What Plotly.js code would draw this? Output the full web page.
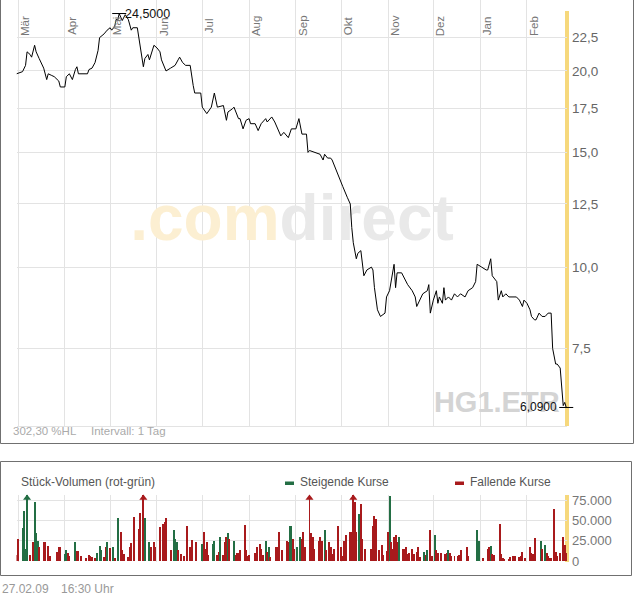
<!DOCTYPE html>
<html><head><meta charset="utf-8">
<script src="https://cdn.plot.ly/plotly-3.0.1.min.js"></script>
<style>html,body{margin:0;padding:0;background:#fff;} #chart{width:634px;height:597px;}</style>
</head><body><div id="chart"></div>
<script>
// ---------- data ----------
const priceDates = [
'2008-02-29','2008-03-04','2008-03-06','2008-03-07','2008-03-09','2008-03-10','2008-03-12','2008-03-13','2008-03-15','2008-03-17',
'2008-03-18','2008-03-20','2008-03-21','2008-03-23','2008-03-25','2008-03-28','2008-03-29','2008-04-01','2008-04-02','2008-04-04',
'2008-04-06','2008-04-08','2008-04-09','2008-04-10','2008-04-12','2008-04-16','2008-04-17','2008-04-19','2008-04-21','2008-04-23',
'2008-04-24','2008-04-27','2008-04-29','2008-05-01','2008-05-02','2008-05-04','2008-05-05','2008-05-06','2008-05-07','2008-05-09',
'2008-05-11','2008-05-13','2008-05-15','2008-05-16','2008-05-19','2008-05-21','2008-05-22','2008-05-23','2008-05-24','2008-05-26',
'2008-05-27','2008-05-28','2008-05-30','2008-06-01','2008-06-03','2008-06-04','2008-06-06','2008-06-07','2008-06-10','2008-06-13',
'2008-06-15','2008-06-16','2008-06-18','2008-06-20','2008-06-23','2008-06-24','2008-06-25','2008-06-26','2008-06-30','2008-07-01',
'2008-07-04','2008-07-07','2008-07-09','2008-07-11','2008-07-15','2008-07-17','2008-07-18','2008-07-21','2008-07-22','2008-07-25',
'2008-07-26','2008-07-28','2008-07-30','2008-08-01','2008-08-02','2008-08-05','2008-08-07','2008-08-09','2008-08-12','2008-08-13',
'2008-08-16','2008-08-18','2008-08-20','2008-08-22','2008-08-24','2008-08-27','2008-08-29','2008-09-01','2008-09-03','2008-09-05',
'2008-09-08','2008-09-09','2008-09-10','2008-09-14','2008-09-17','2008-09-19','2008-09-20','2008-09-22','2008-09-24','2008-09-25',
'2008-09-27','2008-09-29','2008-10-01','2008-10-02','2008-10-05','2008-10-07','2008-10-08','2008-10-09','2008-10-11','2008-10-12',
'2008-10-14','2008-10-15','2008-10-16','2008-10-18','2008-10-21','2008-10-22','2008-10-23','2008-10-25','2008-10-27','2008-10-30',
'2008-10-31','2008-11-02','2008-11-03','2008-11-05','2008-11-06','2008-11-07','2008-11-10','2008-11-12','2008-11-14','2008-11-17',
'2008-11-19','2008-11-20','2008-11-22','2008-11-24','2008-11-27','2008-11-28','2008-11-29','2008-11-30','2008-12-01','2008-12-03',
'2008-12-04','2008-12-05','2008-12-07','2008-12-08','2008-12-09','2008-12-11','2008-12-13','2008-12-15','2008-12-17','2008-12-19',
'2008-12-22','2008-12-24','2008-12-27','2008-12-29','2008-12-30','2009-01-02','2009-01-05','2009-01-06','2009-01-08','2009-01-09',
'2009-01-12','2009-01-13','2009-01-15','2009-01-16','2009-01-18','2009-01-20','2009-01-23','2009-01-25','2009-01-27','2009-01-29',
'2009-01-30','2009-02-01','2009-02-03','2009-02-04','2009-02-06','2009-02-07','2009-02-09','2009-02-11','2009-02-13','2009-02-15',
'2009-02-17','2009-02-18','2009-02-20','2009-02-21','2009-02-23','2009-02-24','2009-02-25','2009-02-26','2009-02-27'
];
const priceValues = [
19.8,19.95,20.4,21.4,21.2,21.0,21.9,21.4,20.9,20.5,
20.2,19.4,19.8,19.7,19.6,19.3,18.9,18.9,19.6,19.8,
19.4,20.1,20.3,19.8,19.8,19.8,20.1,20.2,20.6,21.5,
22.5,22.8,23.1,23.3,23.1,23.4,24.0,23.9,24.5,23.9,
24.4,24.0,23.1,23.3,23.3,21.8,21.2,20.3,20.9,21.2,
20.8,21.2,21.9,21.7,21.4,20.8,20.3,20.0,20.2,20.4,
20.8,21.0,20.6,20.4,20.4,19.6,19.0,18.5,18.5,17.6,
17.2,17.6,18.5,17.6,17.7,16.8,17.3,17.5,17.6,16.9,
16.9,16.3,16.8,16.9,16.6,16.6,16.2,16.6,16.9,16.7,
17.0,16.7,16.3,15.9,16.1,15.8,16.3,16.3,16.9,16.0,
16.0,15.0,15.1,15.0,14.9,14.6,14.9,14.7,14.7,14.6,
14.2,13.8,13.4,13.3,12.8,12.5,11.5,10.9,10.3,10.5,
10.6,10.0,9.7,9.9,10.0,9.9,9.3,8.6,8.4,8.5,
9.0,9.2,9.5,10.1,9.3,9.8,9.8,9.6,9.4,9.2,
9.0,8.7,8.9,9.1,9.2,9.4,8.5,8.7,8.9,9.2,
8.8,9.0,8.8,9.3,8.9,9.0,8.9,9.1,9.0,9.1,
9.0,9.2,9.3,9.5,10.1,10.0,9.9,9.9,10.3,9.7,
9.5,8.9,9.2,9.0,9.1,9.0,9.0,9.0,8.9,8.7,
8.9,8.8,8.6,8.4,8.3,8.3,8.5,8.4,8.4,8.5,
8.5,7.5,7.1,7.1,7.0,6.6,6.13,6.2,6.09
];

const volDates = [
'2008-02-29','2008-03-01','2008-03-04','2008-03-05','2008-03-06','2008-03-07','2008-03-09','2008-03-11','2008-03-12','2008-03-13',
'2008-03-14','2008-03-15','2008-03-18','2008-03-19','2008-03-21','2008-03-22','2008-03-27','2008-03-28','2008-03-29','2008-04-01',
'2008-04-02','2008-04-03','2008-04-04','2008-04-08','2008-04-09','2008-04-10','2008-04-12','2008-04-15','2008-04-17','2008-04-18',
'2008-04-19','2008-04-21','2008-04-22','2008-04-24','2008-04-25','2008-04-27','2008-04-28','2008-04-29','2008-05-01','2008-05-03',
'2008-05-04','2008-05-06','2008-05-08','2008-05-09','2008-05-10','2008-05-13','2008-05-14','2008-05-15','2008-05-17','2008-05-20',
'2008-05-21','2008-05-23','2008-05-24','2008-05-27','2008-05-28','2008-05-30','2008-05-31','2008-06-03','2008-06-05','2008-06-06',
'2008-06-07','2008-06-10','2008-06-12','2008-06-13','2008-06-14','2008-06-15','2008-06-17','2008-06-19','2008-06-21','2008-06-23',
'2008-06-24','2008-06-27',
'2008-07-01','2008-07-02','2008-07-03','2008-07-04','2008-07-05','2008-07-08','2008-07-09','2008-07-11','2008-07-12','2008-07-13',
'2008-07-15','2008-07-16','2008-07-17','2008-07-18','2008-07-19','2008-07-22','2008-07-23','2008-07-24','2008-07-25','2008-07-26',
'2008-07-29','2008-07-30','2008-07-31','2008-08-01','2008-08-05','2008-08-06','2008-08-08','2008-08-09','2008-08-10','2008-08-12',
'2008-08-13','2008-08-14','2008-08-15','2008-08-19','2008-08-20','2008-08-21','2008-08-23','2008-08-26','2008-08-27','2008-08-28',
'2008-08-29','2008-08-30','2008-08-31','2008-09-02','2008-09-04','2008-09-05','2008-09-06','2008-09-07','2008-09-10','2008-09-11',
'2008-09-12','2008-09-13','2008-09-16','2008-09-17','2008-09-18','2008-09-20','2008-09-21','2008-09-23','2008-09-24','2008-09-25',
'2008-09-26','2008-09-29','2008-10-01','2008-10-02','2008-10-03','2008-10-04','2008-10-07','2008-10-08','2008-10-09','2008-10-10',
'2008-10-11','2008-10-13','2008-10-14','2008-10-15','2008-10-17','2008-10-21','2008-10-22','2008-10-23','2008-10-24','2008-10-26',
'2008-10-28','2008-10-29','2008-10-31','2008-11-01','2008-11-02','2008-11-03','2008-11-04','2008-11-05','2008-11-06','2008-11-07',
'2008-11-08','2008-11-11','2008-11-12','2008-11-13','2008-11-14','2008-11-15','2008-11-17','2008-11-18','2008-11-20','2008-11-21',
'2008-11-22','2008-11-25','2008-11-26','2008-11-27','2008-11-29','2008-11-30','2008-12-02','2008-12-03','2008-12-04','2008-12-06',
'2008-12-09','2008-12-10','2008-12-11','2008-12-12','2008-12-13','2008-12-15','2008-12-17','2008-12-18','2008-12-19','2008-12-23',
'2008-12-24','2008-12-30','2008-12-31','2009-01-03','2009-01-06','2009-01-07','2009-01-08','2009-01-09','2009-01-10','2009-01-14',
'2009-01-15','2009-01-16','2009-01-17','2009-01-20','2009-01-21','2009-01-23','2009-01-24','2009-01-27','2009-01-28','2009-01-29',
'2009-01-31','2009-02-03','2009-02-04','2009-02-05','2009-02-06','2009-02-10','2009-02-11','2009-02-13','2009-02-14','2009-02-15',
'2009-02-16','2009-02-17','2009-02-19','2009-02-20','2009-02-21','2009-02-23','2009-02-25','2009-02-26','2009-02-27'
];
const volValues = [
7000,27000,40000,62000,15000,95000,7000,23000,73000,34000,
25000,17000,23000,23000,18000,6000,11000,17000,17000,8000,
13000,10000,6000,23000,12000,12000,6000,4000,7000,6000,
5000,4000,10000,18000,13000,5000,17000,23000,16000,17000,
4000,53000,36000,13000,8000,5000,17000,22000,54000,39500,
59000,95000,53000,23000,17000,23000,17000,42000,46000,48000,
53000,13000,38000,27000,23000,13000,8000,6000,43000,17000,
26000,23000,
21000,36000,15000,23000,7000,21000,24000,7000,11000,30000,
7000,23000,30000,35000,27000,24000,7000,10000,10000,13000,
44000,13000,6000,7000,10000,17000,21000,15000,7000,24000,
11000,17000,5000,17000,17000,36000,14000,25000,23000,43000,
43000,27000,15000,17000,30000,27000,36000,17000,95000,35000,
29000,15000,24000,30000,24000,38000,13000,23000,17000,8000,
15000,43000,17000,6000,24000,32000,36000,36000,95000,72000,
36000,58000,70500,27000,15000,15000,43000,55000,52000,13000,
20000,7000,12000,36000,80000,23000,15000,30000,32000,23000,
30000,15000,15000,17000,8000,10000,15000,8000,11000,17000,
5000,11000,7000,14000,38000,6000,32000,13000,10000,10000,
8000,10000,13000,10000,6000,6000,6000,7000,13000,17000,
6000,38000,25000,4000,15000,17000,18000,9000,7000,46000,
8000,4000,2000,3000,5000,6000,6000,5000,6000,11000,
4000,17000,10000,8000,28000,25000,15000,20000,10000,6000,
4000,4000,64000,11000,6000,10000,30000,20000,10000
];
// 1 = Steigende Kurse, 0 = Fallende Kurse
const volRising = [
0,0,1,1,1,1,0,0,1,1,
1,0,0,0,0,0,0,0,0,1,
1,0,0,1,0,0,0,0,0,0,
0,0,1,1,1,0,0,1,0,1,
0,1,0,0,0,0,0,0,0,0,
0,0,1,1,0,0,0,0,0,0,
0,0,1,1,1,0,0,0,0,0,
0,0,
1,0,0,0,0,1,1,0,0,1,
0,0,0,1,0,1,0,0,0,0,
0,0,0,0,0,0,0,0,0,1,
0,1,0,0,0,0,0,0,0,1,
1,0,0,1,1,0,0,0,0,0,
0,0,0,0,0,1,0,0,0,0,
0,0,0,0,0,0,0,0,0,0,
0,1,0,0,0,0,0,0,0,0,
0,0,0,0,1,0,0,0,0,0,
1,0,0,0,0,0,0,0,0,0,
0,1,0,1,0,0,1,0,0,0,
0,0,1,0,0,0,0,0,0,0,
0,1,1,0,0,0,1,0,0,0,
0,0,0,0,0,0,0,0,0,0,
0,0,0,0,0,1,0,1,0,0,
0,0,0,0,0,0,0,0,0
];

const monthTicks = ['2008-03-01','2008-04-01','2008-05-01','2008-06-01','2008-07-01','2008-08-01',
  '2008-09-01','2008-10-01','2008-11-01','2008-12-01','2009-01-01','2009-02-01'];
const monthLabels = ['Mär','Apr','Mai','Jun','Jul','Aug','Sep','Okt','Nov','Dez','Jan','Feb'];
const priceTicks = [7.5,10,12.5,15,17.5,20,22.5];
const volTicks = [0,25000,50000,75000];
const symbolName = 'HG1.ETR';
const infoRange = '302,30 %HL';
const infoInterval = 'Intervall: 1 Tag';
const volTitle = 'Stück-Volumen (rot-grün)';
const legendUp = 'Steigende Kurse';
const legendDown = 'Fallende Kurse';
const footerDate = '27.02.09';
const footerTime = '16:30 Uhr';

// ---------- layout helpers ----------
const W = 634, H = 597;
const px = x => x / W;
const py = y => 1 - y / H;
const GREEN = '#236e44', RED = '#a81a1c', GRID = '#e3e3e3', YELLOW = '#f6d87c';
const FONT = 'Liberation Sans, Arial, sans-serif';
const xRange = ['2008-02-29', '2009-02-27 12:00'];

let maxI = 0, minI = 0;
priceValues.forEach((v, i) => { if (v > priceValues[maxI]) maxI = i; if (v < priceValues[minI]) minI = i; });
const fmt4 = v => v.toFixed(4).replace('.', ',');

const traces = [
  { type: 'scatter', mode: 'text', x: ['2008-08-29 10:00'], y: [11.65],
    text: ['<span style="color:#fcefd2">.com</span><span style="color:#e9e9e9">direct</span>'],
    textfont: { family: FONT, size: 64, color: '#e9e9e9', weight: 'bold' }, hoverinfo: 'skip', cliponaxis: false, xaxis: 'x', yaxis: 'y' },
  { type: 'scatter', mode: 'text', x: ['2009-01-12'], y: [6.14], text: [symbolName],
    textfont: { family: FONT, size: 29, color: '#d4d4d4', weight: 'bold' }, hoverinfo: 'skip', cliponaxis: false, xaxis: 'x', yaxis: 'y' },
  { type: 'scatter', mode: 'lines', x: priceDates, y: priceValues, line: { color: '#000', width: 1 }, xaxis: 'x', yaxis: 'y' },
  { type: 'scatter', mode: 'markers', x: [priceDates[maxI], priceDates[minI]], y: [priceValues[maxI], priceValues[minI]],
    marker: { symbol: 'line-ew', size: 10, line: { color: '#000', width: 1 } }, cliponaxis: false, xaxis: 'x', yaxis: 'y' },
  { type: 'bar', x: volDates, y: volValues, width: 86400000 * 1.3,
    marker: { color: volRising.map(r => r ? GREEN : RED), line: { width: 0 } }, xaxis: 'x2', yaxis: 'y2' },
];
const arrowIdx = volValues.map((v, i) => v > 90000 ? i : -1).filter(i => i >= 0);
traces.push({ type: 'scatter', mode: 'markers', x: arrowIdx.map(i => volDates[i]), y: arrowIdx.map(() => 77500),
  marker: { symbol: 'triangle-up', size: 7, color: arrowIdx.map(i => volRising[i] ? GREEN : RED) },
  cliponaxis: false, xaxis: 'x2', yaxis: 'y2' });

const annotations = [];
monthTicks.forEach((m, i) => annotations.push({ x: m, xref: 'x', y: py(26), yref: 'paper', text: monthLabels[i],
  textangle: -90, showarrow: false, xanchor: 'center', yanchor: 'middle', xshift: 7, font: { size: 11.5, color: '#777' } }));
annotations.push({ x: priceDates[maxI], xref: 'x', y: Math.log10(priceValues[maxI]), yref: 'y', text: fmt4(priceValues[maxI]),
  showarrow: false, xanchor: 'left', yanchor: 'middle', xshift: 4, font: { size: 12.5, color: '#111' } });
annotations.push({ x: priceDates[minI], xref: 'x', y: Math.log10(priceValues[minI]), yref: 'y', text: fmt4(priceValues[minI]),
  showarrow: false, xanchor: 'right', yanchor: 'middle', xshift: -7, font: { size: 12, color: '#111' } });
const txt = (t, x, y, size, color) => annotations.push({ x: px(x), y: py(y), xref: 'paper', yref: 'paper', text: t,
  showarrow: false, xanchor: 'left', yanchor: 'middle', font: { size: size, color: color } });
txt(infoRange, 11, 431, 11.5, '#aaa');
txt(infoInterval, 89, 431, 11.5, '#aaa');
txt(volTitle, 19, 482, 12, '#555');
txt(legendUp, 298, 482, 12, '#555');
txt(legendDown, 468, 482, 12, '#555');
txt(footerDate, 0, 589, 12, '#999');
txt(footerTime, 59, 589, 12, '#999');

const shapes = [
  { type: 'rect', xref: 'paper', yref: 'paper', x0: px(0.5), x1: px(633.5), y0: py(443.5), y1: py(-5), line: { color: '#707070', width: 1 } },
  { type: 'rect', xref: 'paper', yref: 'paper', x0: px(0.5), x1: px(631.5), y0: py(575.5), y1: py(461.5), line: { color: '#707070', width: 1 } },
  { type: 'line', xref: 'paper', yref: 'paper', x0: px(567), x1: px(567), y0: py(426), y1: py(11), line: { color: YELLOW, width: 4 }, layer: 'below' },
  { type: 'line', xref: 'paper', yref: 'paper', x0: px(567), x1: px(567), y0: py(562), y1: py(495), line: { color: YELLOW, width: 4 }, layer: 'below' },
  { type: 'rect', xref: 'paper', yref: 'paper', x0: px(285), x1: px(294), y0: py(485), y1: py(481.5), fillcolor: GREEN, line: { width: 0 } },
  { type: 'rect', xref: 'paper', yref: 'paper', x0: px(455), x1: px(464), y0: py(485), y1: py(481.5), fillcolor: RED, line: { width: 0 } },
];

const xCommon = { type: 'date', range: xRange, domain: [px(16.5), px(567)], tickvals: monthTicks, showticklabels: false,
  showgrid: true, gridcolor: GRID, gridwidth: 1, zeroline: false, ticks: '', fixedrange: true };
const layout = {
  width: W, height: H, margin: { l: 0, r: 0, t: 0, b: 0 }, paper_bgcolor: '#fff', plot_bgcolor: 'rgba(0,0,0,0)',
  showlegend: false, separators: ',.', font: { family: FONT, color: '#666' },
  xaxis: Object.assign({}, xCommon, { anchor: 'y', showline: true, linecolor: GRID, linewidth: 1 }),
  yaxis: { type: 'log', range: [Math.log10(5.704), Math.log10(25.70)], domain: [py(426), 1], side: 'right', anchor: 'x',
    tickvals: priceTicks, tickformat: '.1f', showgrid: true, gridcolor: GRID, zeroline: false, showline: false, ticks: '',
    tickfont: { size: 13.5, color: '#666' }, ticklabelstandoff: 4 },
  xaxis2: Object.assign({}, xCommon, { anchor: 'y2' }),
  yaxis2: { range: [-1230, 81150], domain: [py(562), py(495)], side: 'right', anchor: 'x2', tickvals: volTicks, tickformat: ',d',
    showgrid: true, gridcolor: GRID, zeroline: false, showline: false, ticks: '', tickfont: { size: 13, color: '#777' }, ticklabelstandoff: 4 },
  annotations: annotations, shapes: shapes, bargap: 0
};
Plotly.newPlot('chart', traces, layout, { staticPlot: true, displayModeBar: false });
</script>
</body></html>
